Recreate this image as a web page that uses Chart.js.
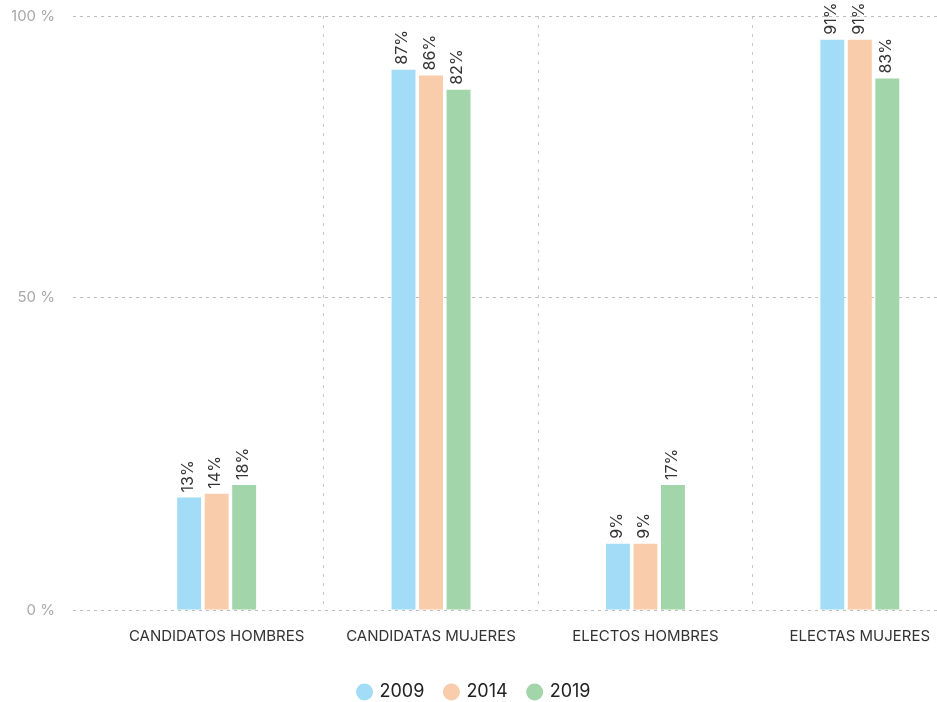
<!DOCTYPE html>
<html>
<head>
<meta charset="utf-8">
<script src="https://cdn.jsdelivr.net/npm/chart.js@4/dist/chart.umd.min.js"></script>
<style>
  html, body { margin: 0; padding: 0; background: #ffffff; }
  #wrap { width: 937px; height: 702px; position: relative; }
</style>
</head>
<body>
<div id="wrap"><canvas id="c"></canvas></div>
<script>
const categories = ['CANDIDATOS HOMBRES', 'CANDIDATAS MUJERES', 'ELECTOS HOMBRES', 'ELECTAS MUJERES'];
const seriesNames = ['2009', '2014', '2019'];
const values2009 = [18.0, 86.4, 10.6, 91.2];
const values2014 = [18.6, 85.5, 10.6, 91.2];
const values2019 = [20.0, 83.2, 20.0, 85.0];
const labels2009 = ['13%', '87%', '9%', '91%'];
const labels2014 = ['14%', '86%', '9%', '91%'];
const labels2019 = ['18%', '82%', '17%', '83%'];
const yTickValues = [0, 50, 95];
const yTickLabels = ['0 %', '50 %', '100 %'];
const colors = ['#a3dcf6', '#f9cdab', '#a2d5aa'];

const seriesValues = [values2009, values2014, values2019];
const seriesLabels = [labels2009, labels2014, labels2019];

const FONT = 'Inter, "Noto Sans", sans-serif';

const valueLabelPlugin = {
  id: 'valueLabels',
  afterDatasetsDraw(chart) {
    const ctx = chart.ctx;
    ctx.save();
    ctx.font = '16px ' + FONT;
    ctx.fillStyle = '#333333';
    ctx.textAlign = 'left';
    ctx.textBaseline = 'middle';
    chart.data.datasets.forEach((ds, di) => {
      const meta = chart.getDatasetMeta(di);
      meta.data.forEach((bar, i) => {
        const txt = seriesLabels[di][i];
        ctx.save();
        ctx.translate(bar.x - 1, bar.y - 5);
        ctx.rotate(-Math.PI / 2);
        ctx.fillText(txt, 0, 0);
        ctx.restore();
      });
    });
    ctx.restore();
  }
};

const datasets = seriesNames.map((name, si) => ({
  label: name,
  data: seriesValues[si].map((v, i) => ({ x: i, y: v })),
  backgroundColor: colors[si],
  borderWidth: 0,
  categoryPercentage: 0.385,
  barPercentage: 0.87
}));

new Chart(document.getElementById('c'), {
  type: 'bar',
  data: { datasets },
  plugins: [valueLabelPlugin],
  options: {
    responsive: true,
    maintainAspectRatio: false,
    animation: false,
    layout: { padding: { top: 16, left: 12, right: 0, bottom: -9 } },
    plugins: {
      tooltip: { enabled: false },
      legend: {
        position: 'bottom',
        labels: {
          usePointStyle: true,
          pointStyle: 'circle',
          boxWidth: 12,
          boxHeight: 12,
          padding: 21,
          color: '#222222',
          font: { family: FONT, size: 18 }
        }
      }
    },
    scales: {
      x: {
        type: 'linear',
        offset: false,
        min: -0.67,
        max: 3.36,
        afterBuildTicks: (scale) => { scale.ticks = categories.map((c, i) => ({ value: i })); },
        afterFit: (scale) => { scale.paddingLeft = 0; scale.paddingRight = 0; },
        ticks: {
          autoSkip: false,
          maxRotation: 0,
          padding: 17,
          color: '#333333',
          font: { family: FONT, size: 15 },
          callback: (v) => categories[v]
        },
        grid: { display: false, drawTicks: false, offset: false },
        border: { display: false }
      },
      xg: {
        type: 'linear',
        position: 'top',
        offset: false,
        min: -0.67,
        max: 3.36,
        afterBuildTicks: (scale) => { scale.ticks = categories.slice(1).map((c, i) => ({ value: i + 0.5 })); },
        afterFit: (scale) => { scale.height = 0; scale.paddingLeft = 0; scale.paddingRight = 0; },
        ticks: { display: false },
        grid: { display: true, drawTicks: false, offset: false, color: '#c8c8c8', lineWidth: 1 },
        border: { display: false, dash: [3, 6] }
      },
      y: {
        min: 0,
        max: 95,
        afterBuildTicks: (scale) => { scale.ticks = yTickValues.map(v => ({ value: v })); },
        afterFit: (scale) => { scale.width = 61; scale.paddingTop = 0; scale.paddingBottom = 0; },
        ticks: {
          padding: 18,
          color: '#a8a8a8',
          font: { family: FONT, size: 15 },
          callback: (v, i) => yTickLabels[i]
        },
        grid: { drawTicks: false, color: '#bdbdbd', lineWidth: 1 },
        border: { display: false, dash: [3, 4] }
      }
    }
  }
});
</script>
</body>
</html>
